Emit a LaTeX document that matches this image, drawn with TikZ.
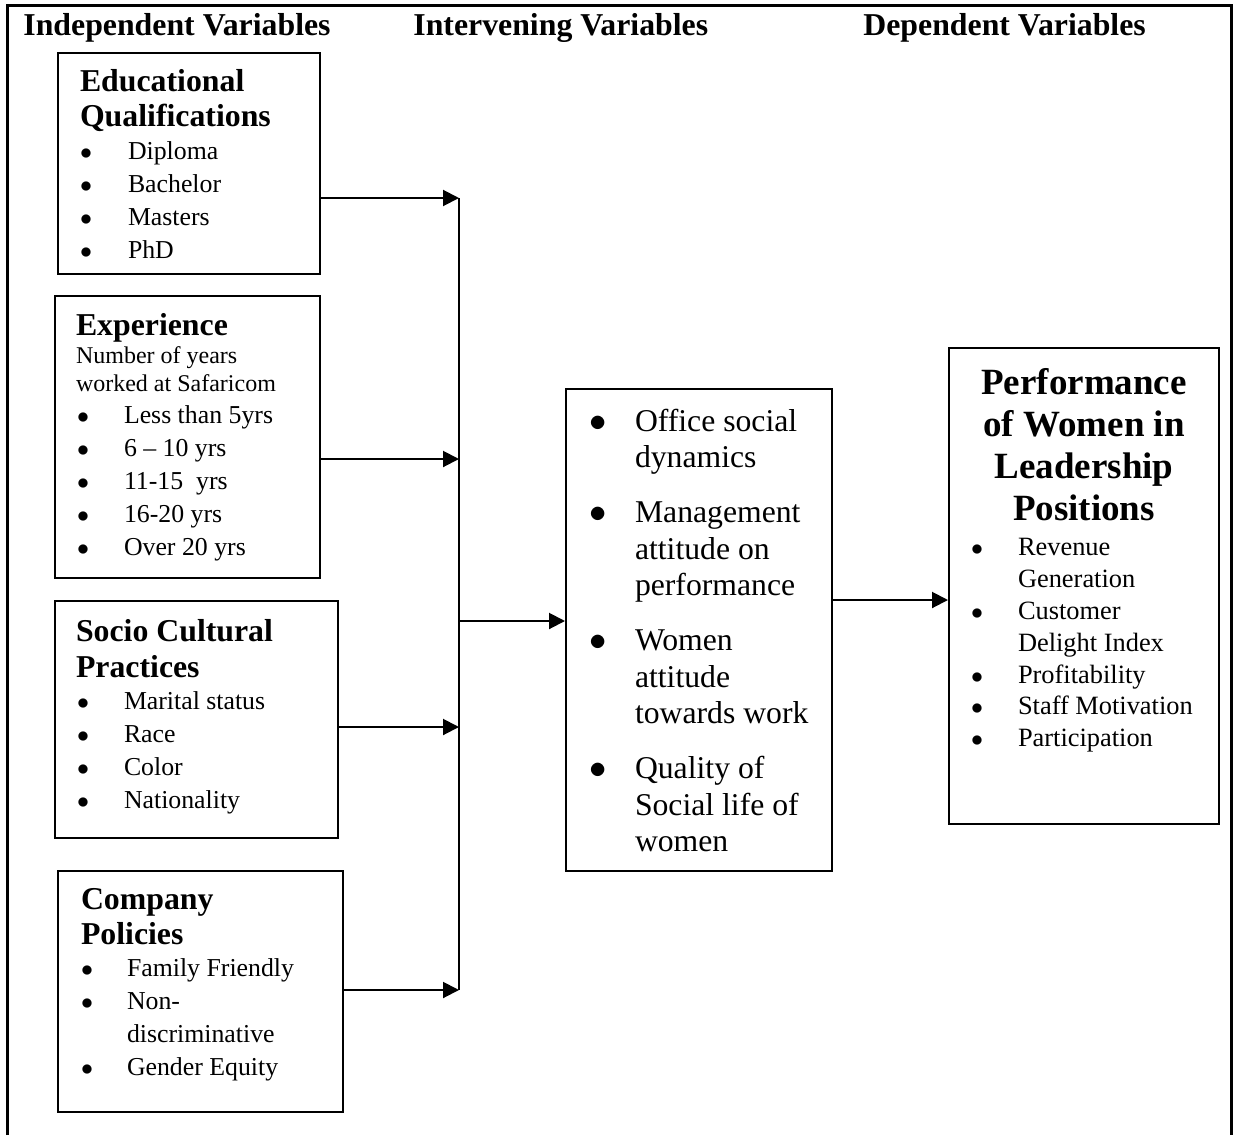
\documentclass[tikz,border=0pt]{standalone}
\usepackage{fontspec}
\setmainfont{Liberation Serif}
\usetikzlibrary{arrows.meta}

\newlength{\bulx}
\newlength{\txtx}
\newcommand{\itm}{\hspace*{\bulx}\makebox[\dimexpr\txtx-\bulx\relax][l]{$\bullet$}}
\newcommand{\cnt}{\hspace*{\txtx}}
\newcommand{\hfont}{\fontsize{15.9}{17.5}\selectfont\bfseries}
\newcommand{\bfont}{\fontsize{12.9}{16.4}\selectfont\mdseries}

\tikzset{box/.style={draw,line width=1pt,inner sep=0pt,anchor=north west}}
\tikzset{arr/.style={line width=1pt,-{Triangle[length=8pt,width=8pt]}}}

\begin{document}
\begin{tikzpicture}[x=0.5pt,y=-0.5pt,
		head/.style={anchor=base west,inner sep=0pt,font=\hfont},
		bus/.style={line width=0.7pt},
		frame/.style={line width=1.5pt,line join=miter}]

	\useasboundingbox (0,0) rectangle (1236,1135);

	% Frame round the figure (open at the bottom)
	\draw [frame] (7.5,1135) -- (7.5,5.5) -- (1231,5.5) -- (1231,1135);

	% Column titles
	\node [head] (indep) at (23,35)  {Independent Variables};
	\node [head] (inter) at (413,35) {Intervening Variables};
	\node [head] (dep)   at (863,35) {Dependent Variables};

	% Educational qualifications
	\node [box] (edu) at (57,52) {\parbox[c][110.5pt][t]{131pt}{%
		\raggedright\setlength{\leftskip}{11pt}%
		\setlength{\bulx}{0pt}\setlength{\txtx}{24pt}%
		\hfont\rule{0pt}{19pt}Educational\\Qualifications\\
		\fontsize{12.9}{16.6}\selectfont\mdseries
		\itm Diploma\\\itm Bachelor\\\itm Masters\\\itm PhD}};

	% Experience
	\node [box] (exp) at (54,295) {\parbox[c][141pt][t]{132.5pt}{%
		\raggedright\setlength{\leftskip}{10.5pt}%
		\setlength{\bulx}{0.5pt}\setlength{\txtx}{24pt}%
		\hfont\rule{0pt}{19.5pt}Experience\\
		\fontsize{12}{14}\selectfont\mdseries
		Number of years\\worked at Safaricom\\
		\bfont
		\itm Less than 5yrs\\\itm 6 – 10 yrs\\\itm 11-15~~yrs\\
		\itm 16-20 yrs\\\itm Over 20 yrs}};

	% Socio cultural practices
	\node [box] (soc) at (54,600) {\parbox[c][118.5pt][t]{141.5pt}{%
		\raggedright\setlength{\leftskip}{10.5pt}%
		\setlength{\bulx}{0.5pt}\setlength{\txtx}{24pt}%
		\fontsize{15.9}{18}\selectfont\bfseries
		\rule{0pt}{20pt}Socio Cultural\\Practices\\
		\bfont
		\itm Marital status\\\itm Race\\\itm Color\\\itm Nationality}};

	% Company policies
	\node [box] (pol) at (57,870) {\parbox[c][120.5pt][t]{142.5pt}{%
		\raggedright\setlength{\leftskip}{11.5pt}%
		\setlength{\bulx}{0pt}\setlength{\txtx}{23pt}%
		\hfont\rule{0pt}{19pt}Company\\Policies\\
		\bfont
		\itm Family Friendly\\\itm Non-\\\cnt discriminative\\
		\itm Gender Equity}};

	% Intervening variables
	\node [box] (mid) at (565,388) {\parbox[c][241pt][t]{133pt}{%
		\raggedright\setlength{\leftskip}{11.5pt}%
		\setlength{\bulx}{0pt}\setlength{\txtx}{23pt}%
		\fontsize{15.85}{18.25}\selectfont
		\rule{0pt}{21pt}\itm Office social\\\cnt dynamics\\[9.25pt]
		\itm Management\\\cnt attitude on\\\cnt performance\\[9.25pt]
		\itm Women\\\cnt attitude\\\cnt towards work\\[9.25pt]
		\itm Quality of\\\cnt Social life of\\\cnt women}};

	% Dependent variable
	\node [box] (perf) at (948,347) {\parbox[c][238pt][t]{135pt}{%
		\centering\fontsize{18.5}{21}\selectfont\bfseries
		\rule{0pt}{23pt}Performance\\of Women in\\Leadership\\Positions\\[2pt]
		\raggedright\setlength{\leftskip}{11pt}%
		\setlength{\bulx}{0pt}\setlength{\txtx}{23.5pt}%
		\fontsize{13.2}{15.9}\selectfont\mdseries
		\itm Revenue\\\cnt Generation\\\itm Customer\\\cnt Delight Index\\
		\itm Profitability\\\itm Staff Motivation\\\itm Participation}};

	% Joints on the collecting line
	\coordinate (j1) at (459,198);
	\coordinate (j2) at (459,459);
	\coordinate (j3) at (459,727);
	\coordinate (j4) at (459,990);
	\coordinate (jm) at (459,621);
	\coordinate (out) at (890,600);

	% Collecting line and arrows
	\draw [bus] (j1) -- (j4);
	\draw [arr] (edu.east |- j1) -- (j1);
	\draw [arr] (exp.east |- j2) -- (j2);
	\draw [arr] (soc.east |- j3) -- (j3);
	\draw [arr] (pol.east |- j4) -- (j4);
	\draw [arr] (jm) -- (mid.west |- jm);
	\draw [arr] (mid.east |- out) -- (perf.west |- out);

\end{tikzpicture}
\end{document}
